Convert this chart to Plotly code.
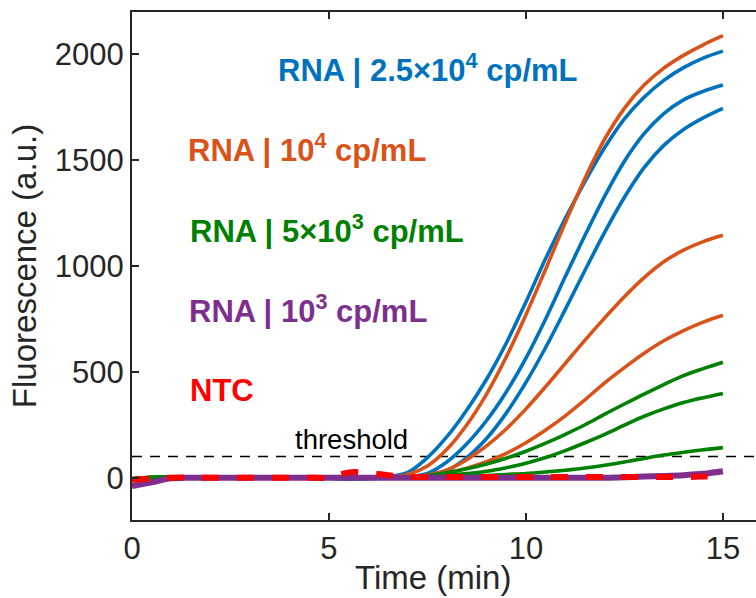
import plotly.graph_objects as go

time_min = [0, 0.5, 1, 1.5, 2, 2.5, 3, 3.5, 4, 4.5, 5, 5.5, 6, 6.5, 7, 7.5, 8, 8.5, 9, 9.5,
            10, 10.5, 11, 11.5, 12, 12.5, 13, 13.5, 14, 14.5, 15]

blue_25e4_a = [-8, -4, 0, 0, 0, 0, 0, 0, 0, 0, -2, -5, -3, 5, 25, 95, 195, 320, 465, 635,
               830, 1035, 1225, 1400, 1560, 1695, 1797, 1877, 1937, 1982, 2015]
blue_25e4_b = [-6, -3, 0, 0, 0, 0, 0, 0, 0, 0, -2, -5, -4, 0, 5, 20, 75, 160, 270, 405,
               565, 750, 950, 1145, 1330, 1495, 1625, 1720, 1785, 1825, 1855]
blue_25e4_c = [-6, -3, 0, 0, 0, 0, 0, 0, 0, 0, -2, -5, -4, -1, 3, 12, 35, 95, 185, 305,
               450, 615, 795, 980, 1160, 1325, 1465, 1570, 1645, 1700, 1745]

orange_1e4_a = [-5, -2, 0, 0, 0, 0, 0, 0, 0, 0, 0, -2, -1, 3, 15, 55, 135, 250, 395, 570,
                770, 985, 1205, 1415, 1600, 1745, 1855, 1935, 1995, 2045, 2088]
orange_1e4_b = [-5, -2, 0, 0, 0, 0, 0, 0, 0, 0, 0, -2, -1, 0, 3, 12, 37, 85, 150, 230,
                325, 430, 540, 650, 755, 855, 945, 1020, 1075, 1115, 1145]
orange_1e4_c = [-5, -2, 0, 0, 0, 0, 0, 0, 0, 0, 0, -2, -1, 0, 2, 8, 22, 45, 75, 115,
                165, 225, 292, 368, 448, 520, 588, 647, 695, 735, 767]

green_5e3_a = [-5, 2, 3, 0, 0, 0, 0, 0, 0, 0, 0, -2, -1, 0, 3, 10, 24, 42, 65, 92,
               125, 163, 205, 250, 300, 348, 395, 440, 482, 515, 545]
green_5e3_b = [-5, 2, 3, 0, 0, 0, 0, 0, 0, 0, 0, -2, -1, 0, 1, 4, 10, 19, 30, 47,
               68, 95, 128, 165, 205, 248, 290, 325, 355, 378, 398]
green_5e3_c = [-5, 2, 3, 0, 0, 0, 0, 0, 0, 0, 0, -2, -1, 0, 0, 1, 3, 6, 10, 15,
               20, 27, 35, 46, 59, 74, 91, 107, 120, 132, 142]

purple_1e3 = [-40, -22, -3, 0, 0, 0, 0, 0, 0, 0, 0, 0, 0, 0, 0, 0, 0, 0, 0, 0,
              0, 0, 0, 0, 0, 2, 5, 8, 12, 18, 30]

ntc = [-10, -5, 0, 0, 0, 0, 0, 0, 0, 0, 0, 25, 22, 12, 4, 3, 3, 3, 3, 3,
       3, 3, 3, 3, 3, 3, 3, 3, 3, 5, 8]

THRESHOLD = 100

x_ticks = [0, 5, 10, 15]
y_ticks = [0, 500, 1000, 1500, 2000]

BLUE = "#0072BD"
ORANGE = "#D95319"
GREEN = "#008000"
PURPLE = "#7E2F8E"
RED = "#FF0000"
AX = "#262626"
FONT = "Liberation Sans, Arial, Helvetica, sans-serif"

fig = go.Figure()

def add(y, color, width, dash="solid"):
    fig.add_trace(go.Scatter(
        x=time_min, y=y, mode="lines",
        line=dict(color=color, width=width, dash=dash, shape="spline", smoothing=1.0),
        showlegend=False, hoverinfo="skip"))

for s in (blue_25e4_a, blue_25e4_b, blue_25e4_c):
    add(s, BLUE, 3.6)
for s in (orange_1e4_a, orange_1e4_b, orange_1e4_c):
    add(s, ORANGE, 3.6)
for s in (green_5e3_a, green_5e3_b, green_5e3_c):
    add(s, GREEN, 3.6)
add(purple_1e3, PURPLE, 6)
add(ntc, RED, 6, dash="17px,18px")

fig.add_shape(type="line", xref="paper", x0=0, x1=1, yref="y", y0=THRESHOLD, y1=THRESHOLD,
              line=dict(color="black", width=1.3, dash="10px,8px"), layer="below")

fig.add_annotation(x=4.09, y=THRESHOLD, xref="x", yref="y", text="threshold",
                   showarrow=False, xanchor="left", yanchor="bottom",
                   font=dict(family=FONT, size=27.5, color="black"))

labels = [
    ("RNA | 2.5×10<sup>4</sup> cp/mL", BLUE, 3.66, 1919, 3),
    ("RNA | 10<sup>4</sup> cp/mL", ORANGE, 1.37, 1543, 3),
    ("RNA | 5×10<sup>3</sup> cp/mL", GREEN, 1.42, 1162, 3),
    ("RNA | 10<sup>3</sup> cp/mL", PURPLE, 1.40, 786, 2),
    ("NTC", RED, 1.42, 414, 0),
]
for text, col, lx, ly, dy in labels:
    fig.add_annotation(x=lx, y=ly, xref="x", yref="y", text="<b>" + text + "</b>",
                       showarrow=False, xanchor="left", yanchor="middle", yshift=dy,
                       font=dict(family=FONT, size=31, color=col))

# x-axis title as text below the axis
fig.add_annotation(x=7.64, y=-0.151, xref="x", yref="paper", text="Time (min)",
                   showarrow=False, xanchor="center", yanchor="bottom", borderpad=0,
                   font=dict(family=FONT, size=33, color=AX))

fig.update_layout(
    width=756, height=598,
    margin=dict(l=132, r=0, t=12, b=78),
    paper_bgcolor="white", plot_bgcolor="white",
    font=dict(family=FONT, color=AX),
)
fig.update_xaxes(
    range=[0, 15.84], tickvals=x_ticks, ticks="inside", ticklen=7, tickwidth=1.5,
    tickcolor=AX, showline=True, linecolor=AX, linewidth=2, mirror="ticks",
    showgrid=False, zeroline=False, tickfont=dict(size=31, color=AX),
)
fig.update_yaxes(
    range=[-200, 2200], tickvals=y_ticks, ticks="inside", ticklen=7, tickwidth=1.5,
    tickcolor=AX, showline=True, linecolor=AX, linewidth=2, mirror=False,
    showgrid=False, zeroline=False, tickfont=dict(size=31, color=AX),
    title=dict(text="Fluorescence (a.u.)", font=dict(size=33, color=AX), standoff=8),
)

fig.write_html("out.html")
